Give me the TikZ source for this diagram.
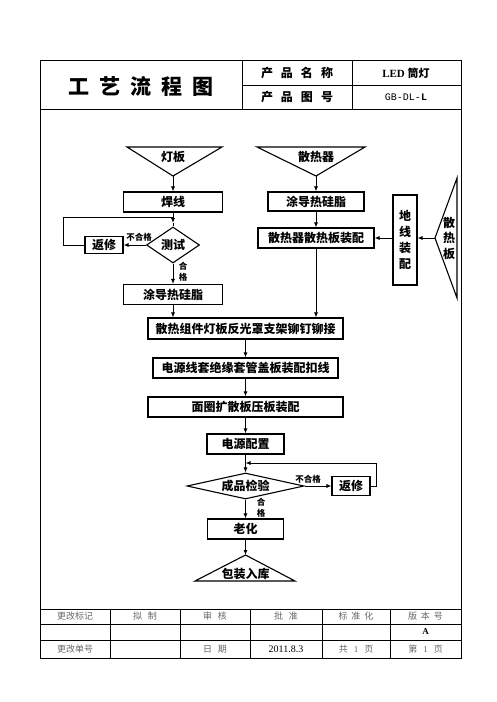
\documentclass[tikz,border=0pt]{standalone}
\usepackage{fontspec}
\setmainfont{Liberation Serif}
\newfontfamily\cjk{Noto Sans CJK SC}
\newfontfamily\mono{Liberation Mono}
\usetikzlibrary{shapes.geometric, arrows.meta}
\tikzset{
    box/.style={draw, line width=1.1pt, minimum height=20pt, inner sep=0pt, font=\cjk\bfseries\fontsize{12}{12}\selectfont},
    dia/.style={draw, diamond, line width=1.1pt, inner sep=0pt, font=\cjk\bfseries\fontsize{12}{12}\selectfont},
    tri/.style={line width=1.1pt, line join=miter},
    txt/.style={inner sep=0pt, font=\cjk\bfseries\fontsize{12}{12}\selectfont},
    lbl/.style={inner sep=0pt, align=center, font=\cjk\bfseries\fontsize{8.5}{11}\selectfont},
    arr/.style={line width=0.8pt, -{Latex[length=5pt,width=4pt]}},
    con/.style={line width=0.8pt},
    tab/.style={inner sep=0pt, text=black!60, font=\cjk\fontsize{9}{9}\selectfont},
}
\begin{document}
\begin{tikzpicture}[x=1pt,y=-1pt]
    \useasboundingbox (0,0) rectangle (496,702);
    % frame and header
    \draw[line width=0.9pt] (40,60) rectangle (461,658);
    \draw[line width=0.8pt] (40,109) -- (461,109) (242,60) -- (242,109) (352,60) -- (352,109) (242,85) -- (461,85);
    \node[txt, font=\cjk\bfseries\fontsize{21}{21}\selectfont] (title) at (141,86) {工\hspace{10pt}艺\hspace{10pt}流\hspace{10pt}程\hspace{10pt}图};
    \node[txt] (mingcheng) at (297,73) {产\hspace{8pt}品\hspace{8pt}名\hspace{8pt}称};
    \node[txt] (tuhao) at (297,97) {产\hspace{8pt}品\hspace{8pt}图\hspace{8pt}号};
    \node[txt] (chanpin) at (406,73) {\rmfamily\bfseries\fontsize{11}{11}\selectfont LED {\cjk\bfseries 筒灯}};
    \node[inner sep=0pt, font=\mono\fontsize{10}{10}\selectfont] (bianhao) at (406,97) {GB-DL-\textbf{L}};
    % bottom table
    \draw[line width=0.6pt] (40,609) -- (461,609) (40,624) -- (461,624) (40,640) -- (461,640);
    \foreach \x in {110,180,250,322,390} \draw[line width=0.6pt] (\x,609) -- (\x,658);
    \node[tab] (t11) at (75,616.5) {更改标记};
    \node[tab] (t12) at (145,616.5) {拟\hspace{6pt}制};
    \node[tab] (t13) at (215,616.5) {审\hspace{6pt}核};
    \node[tab] (t14) at (286,616.5) {批\hspace{6pt}准};
    \node[tab] (t15) at (356,616.5) {标\hspace{4pt}准\hspace{4pt}化};
    \node[tab] (t16) at (425.5,616.5) {版\hspace{4pt}本\hspace{4pt}号};
    \node[tab, text=black, font=\rmfamily\bfseries\fontsize{9}{9}\selectfont] (t26) at (425.5,632) {A};
    \node[tab] (t31) at (75,649) {更改单号};
    \node[tab] (t33) at (215,649) {日\hspace{6pt}期};
    \node[tab, text=black, font=\rmfamily\fontsize{10}{10}\selectfont] (t34) at (286,649) {2011.8.3};
    \node[tab] (t35) at (356,649) {共\hspace{6pt}{\rmfamily 1}\hspace{6pt}页};
    \node[tab] (t36) at (425.5,649) {第\hspace{6pt}{\rmfamily 1}\hspace{6pt}页};
    % left branch
    \draw[tri] (127,147) -- (222,147) -- (173,176) -- cycle;
    \node[txt] (dengban) at (173,157) {灯板};
    \coordinate (dengbantip) at (173,176);
    \node[box, minimum width=99pt] (hanxian) at (173,202) {焊线};
    \node[dia, minimum width=53pt, minimum height=36pt, aspect=1.5] (ceshi) at (173,245) {测试};
    \node[box, minimum width=38pt, minimum height=17pt] (fanxiuA) at (104,245) {返修};
    \node[box, minimum width=99pt] (tudaoA) at (173,294.5) {涂导热硅脂};
    \coordinate (huiA) at (173,223);
    \draw[arr] (dengbantip) -- (hanxian.north);
    \draw[arr] (hanxian.south) -- (huiA);
    \draw[con] (huiA) -- (ceshi.north);
    \draw[con] (fanxiuA.west) -- (63,245) -- (63,217) -- (173,217);
    \draw[arr] (ceshi.west) -- (fanxiuA.east);
    \draw[arr] (ceshi.south) -- (tudaoA.north);
    \node[lbl] (buhegeA) at (139,237) {不合格};
    \node[lbl] (hegeA) at (183,272) {合\\格};
    % right branch
    \draw[tri] (257,147) -- (365,147) -- (316,176) -- cycle;
    \node[txt] (sanreqi) at (316,157) {散热器};
    \coordinate (sanreqitip) at (316,176);
    \node[box, minimum width=96pt, minimum height=19pt] (tudaoB) at (316,201.5) {涂导热硅脂};
    \node[box, minimum width=116pt] (zhuangpei) at (316,238) {散热器散热板装配};
    \node[box, minimum width=24pt, minimum height=90pt, align=center, font=\cjk\bfseries\fontsize{12}{16}\selectfont] (dixian) at (405,240) {地\\线\\装\\配};
    \draw[tri] (457,178) -- (435,238) -- (457,298) -- cycle;
    \node[txt, align=center, font=\cjk\bfseries\fontsize{12}{15.5}\selectfont] (sanreban) at (449,238) {散\\热\\板};
    \coordinate (sanrebantip) at (435,238);
    \draw[arr] (sanreqitip) -- (tudaoB.north);
    \draw[arr] (tudaoB.south) -- (zhuangpei.north);
    \draw[arr] (sanrebantip) -- (sanrebantip -| dixian.east);
    \draw[arr] (zhuangpei.east -| dixian.west) -- (zhuangpei.east);
    % main line
    \node[box, minimum width=195pt, minimum height=21pt] (zujian) at (245.5,328.5) {散热组件灯板反光罩支架铆钉铆接};
    \node[box, minimum width=185pt] (dianyuanxian) at (245.5,368) {电源线套绝缘套管盖板装配扣线};
    \node[box, minimum width=195pt] (mianquan) at (245.5,407) {面圈扩散板压板装配};
    \node[box, minimum width=77pt] (peizhi) at (245.5,444) {电源配置};
    \node[dia, minimum width=117pt, minimum height=26pt, aspect=4.5] (jianyan) at (245.5,486) {成品检验};
    \node[box, minimum width=38pt, minimum height=19pt] (fanxiuB) at (351,486) {返修};
    \node[box, minimum width=76pt] (laohua) at (245.5,529) {老化};
    \draw[tri] (195,581) -- (295,581) -- (245.5,555) -- cycle;
    \node[txt] (baozhuang) at (245.5,574) {包装入库};
    \coordinate (baozhuangtip) at (245.5,555);
    \coordinate (huiB) at (245.5,463);
    \draw[arr] (tudaoA.south) -- (tudaoA.south |- zujian.north);
    \draw[arr] (zhuangpei.south) -- (zhuangpei.south |- zujian.north);
    \draw[arr] (zujian.south) -- (dianyuanxian.north);
    \draw[arr] (dianyuanxian.south) -- (mianquan.north);
    \draw[arr] (mianquan.south) -- (peizhi.north);
    \draw[arr] (peizhi.south) -- (jianyan.north);
    \draw[arr] (jianyan.east) -- (fanxiuB.west);
    \draw[arr] (fanxiuB.east) -- (376,486) -- (376,463) -- (huiB);
    \draw[arr] (jianyan.south) -- (laohua.north);
    \draw[arr] (laohua.south) -- (baozhuangtip);
    \node[lbl] (buhegeB) at (308,479) {不合格};
    \node[lbl] (hegeB) at (261,507.5) {合\\格};
\end{tikzpicture}
\end{document}
